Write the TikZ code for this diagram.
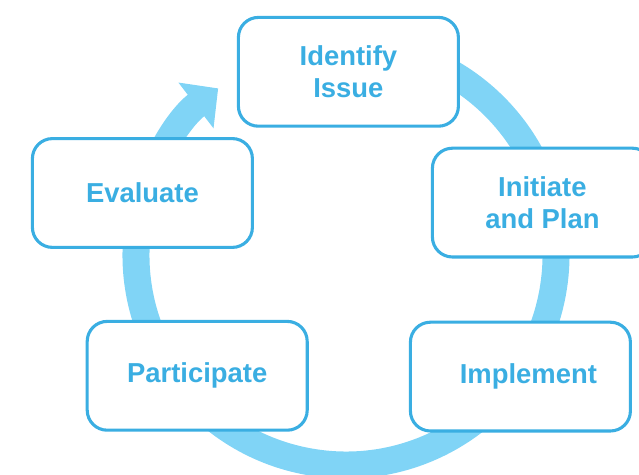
\documentclass[tikz,border=0pt]{standalone}
\usepackage{fontspec}
\newfontfamily\stepfont{Liberation Sans}
\usetikzlibrary{arrows.meta}
\definecolor{boxblue}{HTML}{3AAEE2}
\definecolor{ringblue}{HTML}{80D4F6}

\begin{document}
\begin{tikzpicture}[>=latex,
	stagebox/.style={draw=boxblue, line width=2.2pt, fill=white, rounded corners=0.5cm,
		minimum width=5.5cm, minimum height=2.72cm, align=center, text=boxblue,
		font=\stepfont\bfseries\fontsize{19.5}{23}\selectfont},
	cycle/.style={draw=ringblue, line width=0.675cm, -{Triangle[width=1.4cm,length=0.7cm]}}]
			%%%	Frame
			\useasboundingbox (0,0) rectangle (15.975,11.875);
%			\draw [thin, help lines] (0,0) grid (16,12);
			%%%	Ring
			\coordinate (c) at (8.65,5.5);
			\draw[cycle] (c) ++(80:5.25) arc (80:-232.5:5.25);
			%%%	Stages
			\node[stagebox] (issue) at (8.71,10.08) {Identify\\Issue};
			\node[stagebox] (plan) at (13.56,6.81) {Initiate\\and Plan};
			\node[stagebox] (implement) at (13.01,2.46) {\hspace*{0.4cm}Implement};
			\node[stagebox] (participate) at (4.93,2.48) {Participate};
			\node[stagebox] (evaluate) at (3.56,7.05) {Evaluate};
		\end{tikzpicture}
\end{document}
